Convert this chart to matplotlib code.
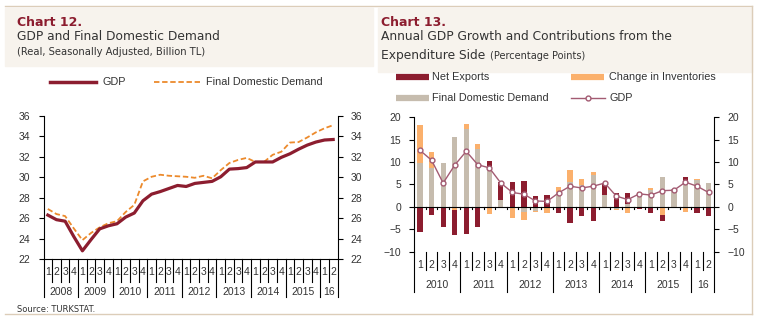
import matplotlib.pyplot as plt
from matplotlib.patches import Rectangle
from matplotlib.lines import Line2D
import numpy as np

plt.rcParams['font.family'] = ['Liberation Sans', 'DejaVu Sans']

dark_red = "#8c1d2f"
dash_orange = "#ec8a2c"
light_orange = "#fbb06c"
beige = "#c6bcae"
mauve = "#a35b72"
header_bg = "#f7f3ed"
frame_col = "#dccdb9"
txt = "#333333"

# Chart 12: real seasonally adjusted levels, billion TL (2008Q1 - 2016Q2)
gdp_level = [26.3, 25.85, 25.7, 24.2,
             22.8, 23.9, 24.95, 25.25,
             25.45, 26.1, 26.5, 27.7,
             28.35, 28.6, 28.9, 29.2,
             29.1, 29.4, 29.5, 29.6,
             30.05, 30.8, 30.85, 30.95,
             31.5, 31.5, 31.5, 31.95,
             32.3, 32.75, 33.15, 33.45,
             33.65, 33.7]
fdd_level = [26.9, 26.4, 26.2, 25.0,
             23.85, 24.55, 25.1, 25.5,
             25.7, 26.6, 27.3, 29.6,
             30.05, 30.25, 30.15, 30.1,
             30.05, 29.95, 30.15, 29.9,
             30.7, 31.4, 31.7, 31.9,
             31.5, 31.5, 32.2, 32.5,
             33.4, 33.45, 33.9, 34.4,
             34.8, 35.1]
quarters_12 = [1, 2, 3, 4] * 8 + [1, 2]
years_12 = ["2008", "2009", "2010", "2011", "2012", "2013", "2014", "2015", "16"]

# Chart 13: contributions to annual GDP growth, pp (2010Q1 - 2016Q2)
fdd_contrib = [9.7, 8.6, 9.8, 15.7, 17.4, 12.9, 9.0, 1.5, 0.0, -1.1, -0.9, -0.3, 3.4,
               5.6, 4.9, 7.0, 2.6, -0.4, 0.6, 2.3, 3.8, 6.7, 4.0, 5.7, 5.9, 5.3]
inv_contrib = [8.6, 3.7, 0.0, -0.7, 1.1, 1.1, -1.6, -0.3, -2.4, -1.9, -0.3, -1.2, 1.0,
               2.6, 1.4, 0.8, 0.0, -0.4, -1.5, 1.0, 0.3, -1.9, 0.0, -1.2, 0.2, 0.0]
nx_contrib = [-5.7, -1.9, -4.5, -5.5, -6.0, -4.6, 1.3, 4.1, 5.6, 5.8, 2.5, 2.7, -1.3,
              -3.6, -2.1, -3.2, 2.7, 3.0, 2.5, -0.4, -1.5, -1.2, -0.3, 1.0, -1.5, -2.1]
gdp_growth = [12.6, 10.4, 5.3, 9.3, 12.4, 9.4, 8.7, 5.3, 3.2, 2.8, 1.3, 1.2, 3.1,
              4.6, 4.2, 4.6, 5.3, 2.4, 1.6, 2.9, 2.6, 3.6, 3.7, 5.5, 4.6, 3.2]
quarters_13 = [1, 2, 3, 4] * 6 + [1, 2]
years_13 = ["2010", "2011", "2012", "2013", "2014", "2015", "16"]

W, H = 758, 321


def fx(px):
    return px / W


def fy(py):
    return 1 - py / H


def category_axis(ax, quarters, years, q_sep, y_sep, q_lab, y_lab):
    trans = ax.get_xaxis_transform()
    n = len(quarters)
    for i, q in enumerate(quarters):
        ax.text(i, q_lab, str(q), transform=trans, ha='center', va='center',
                fontsize=7.5, color=txt)
    for i in range(n + 1):
        long_line = i == 0 or i == n or quarters[i] == 1
        ax.plot([i - 0.5, i - 0.5], [0, y_sep if long_line else q_sep],
                transform=trans, color='black', lw=0.8, clip_on=False)
    starts = [i for i, q in enumerate(quarters) if q == 1] + [n]
    for k, label in enumerate(years):
        mid = (starts[k] + starts[k + 1] - 1) / 2
        ax.text(mid, y_lab, label, transform=trans, ha='center', va='center',
                fontsize=7.5, color=txt)


fig = plt.figure(figsize=(W / 100, H / 100), dpi=100)

# header bands and frame
fig.patches.append(Rectangle((fx(5), fy(66)), fx(368), 58 / H, transform=fig.transFigure,
                             color=header_bg, zorder=0))
fig.patches.append(Rectangle((fx(378), fy(72)), fx(374), 64 / H, transform=fig.transFigure,
                             color=header_bg, zorder=0))
fig.add_artist(Line2D([fx(5), fx(752)], [fy(6), fy(6)], color=frame_col, lw=1))
fig.add_artist(Line2D([fx(5), fx(752)], [fy(314), fy(314)], color=frame_col, lw=1))
fig.add_artist(Line2D([fx(752), fx(752)], [fy(6), fy(314)], color=frame_col, lw=1))

# titles
head = ['DejaVu Sans']
fig.text(fx(17), fy(23), "Chart 12.", color=dark_red, fontsize=9, fontweight='bold',
         va='center', family=head)
fig.text(fx(17), fy(37), "GDP and Final Domestic Demand", color=txt, fontsize=8.8,
         va='center', family=head)
fig.text(fx(17), fy(52), "(Real, Seasonally Adjusted, Billion TL)", color=txt, fontsize=7.2,
         va='center', family=head)
fig.text(fx(381), fy(23), "Chart 13.", color=dark_red, fontsize=9, fontweight='bold',
         va='center', family=head)
fig.text(fx(381), fy(37), "Annual GDP Growth and Contributions from the", color=txt,
         fontsize=8.8, va='center', family=head)
fig.text(fx(381), fy(55), "Expenditure Side", color=txt, fontsize=8.8, va='center',
         family=head)
fig.text(fx(490), fy(56), "(Percentage Points)", color=txt, fontsize=7, va='center',
         family=head)
fig.text(fx(17), fy(310), "Source: TURKSTAT.", color=txt, fontsize=6, va='center',
         family=head)

# legend for chart 12
fig.add_artist(Line2D([fx(50), fx(96)], [fy(82), fy(82)], color=dark_red, lw=2.5))
fig.text(fx(102), fy(82), "GDP", fontsize=7.8, va='center', color=txt)
fig.add_artist(Line2D([fx(154), fx(200)], [fy(82), fy(82)], color=dash_orange, lw=1.3,
                      ls=(0, (3, 1.5))))
fig.text(fx(206), fy(82), "Final Domestic Demand", fontsize=7.8, va='center', color=txt)

# legend for chart 13
for px, py, col in [(396, 77, dark_red), (571, 77, light_orange), (396, 98, beige)]:
    fig.add_artist(Line2D([fx(px), fx(px + 33)], [fy(py), fy(py)], color=col, lw=4.5,
                          solid_capstyle='butt'))
fig.add_artist(Line2D([fx(571), fx(605)], [fy(98), fy(98)], color=mauve, lw=1))
fig.add_artist(Line2D([fx(588)], [fy(98)], color=mauve, marker='o', ms=3.5, mfc='white',
                      mew=1))
fig.text(fx(432), fy(77), "Net Exports", fontsize=7.8, va='center', color=txt)
fig.text(fx(609), fy(77), "Change in Inventories", fontsize=7.8, va='center', color=txt)
fig.text(fx(432), fy(98), "Final Domestic Demand", fontsize=7.8, va='center', color=txt)
fig.text(fx(609), fy(98), "GDP", fontsize=7.8, va='center', color=txt)

# ---- Chart 12 ----
ax1 = fig.add_axes([fx(43.5), fy(259), 294 / W, 143 / H])
x12 = np.arange(len(gdp_level))
ax1.plot(x12, fdd_level, color=dash_orange, lw=1.3, ls=(0, (3, 1.5)), zorder=3)
ax1.plot(x12, gdp_level, color=dark_red, lw=2.3, zorder=4)
ax1.set_xlim(-0.5, len(gdp_level) - 0.5)
ax1.set_ylim(22, 36)
ax1.set_yticks(range(22, 37, 2))
ax1.set_xticks([])
ax1.spines['top'].set_visible(False)
for s in ['left', 'right', 'bottom']:
    ax1.spines[s].set_linewidth(0.8)
ax1.tick_params(axis='y', direction='out', length=3.5, width=0.8, labelsize=7.5,
                labelcolor=txt, left=True, right=True, labelright=True, pad=6)
category_axis(ax1, quarters_12, years_12, -0.161, -0.264, -0.091, -0.231)

# ---- Chart 13 ----
ax2 = fig.add_axes([fx(414.3), fy(251.5), 300 / W, 134.2 / H])
x13 = np.arange(len(gdp_growth))
pos_base = np.zeros(len(x13))
neg_base = np.zeros(len(x13))
for vals, col in [(fdd_contrib, beige), (inv_contrib, light_orange), (nx_contrib, dark_red)]:
    v = np.array(vals)
    base = np.where(v >= 0, pos_base, neg_base)
    ax2.bar(x13, v, width=0.45, bottom=base, color=col, zorder=2)
    pos_base += np.where(v >= 0, v, 0)
    neg_base += np.where(v < 0, v, 0)
ax2.plot(x13, gdp_growth, color=mauve, lw=1, marker='o', ms=3.5, mfc='white', mec=mauve,
         mew=1, zorder=4)
ax2.axhline(0, color='black', lw=0.8, zorder=3)
for i in range(len(x13) + 1):
    ax2.plot([i - 0.5, i - 0.5], [0, -0.6], color='black', lw=0.8, zorder=3)
ax2.set_xlim(-0.5, len(x13) - 0.5)
ax2.set_ylim(-10, 20)
ax2.set_yticks(range(-10, 21, 5))
ax2.set_xticks([])
ax2.spines['top'].set_visible(False)
ax2.spines['bottom'].set_visible(False)
for s in ['left', 'right']:
    ax2.spines[s].set_linewidth(0.8)
ax2.tick_params(axis='y', direction='out', length=3.5, width=0.8, labelsize=7.5,
                labelcolor=txt, left=True, right=True, labelright=True, pad=6)
category_axis(ax2, quarters_13, years_13, -0.138, -0.302, -0.10, -0.25)

fig.savefig("out.png", dpi=100)
